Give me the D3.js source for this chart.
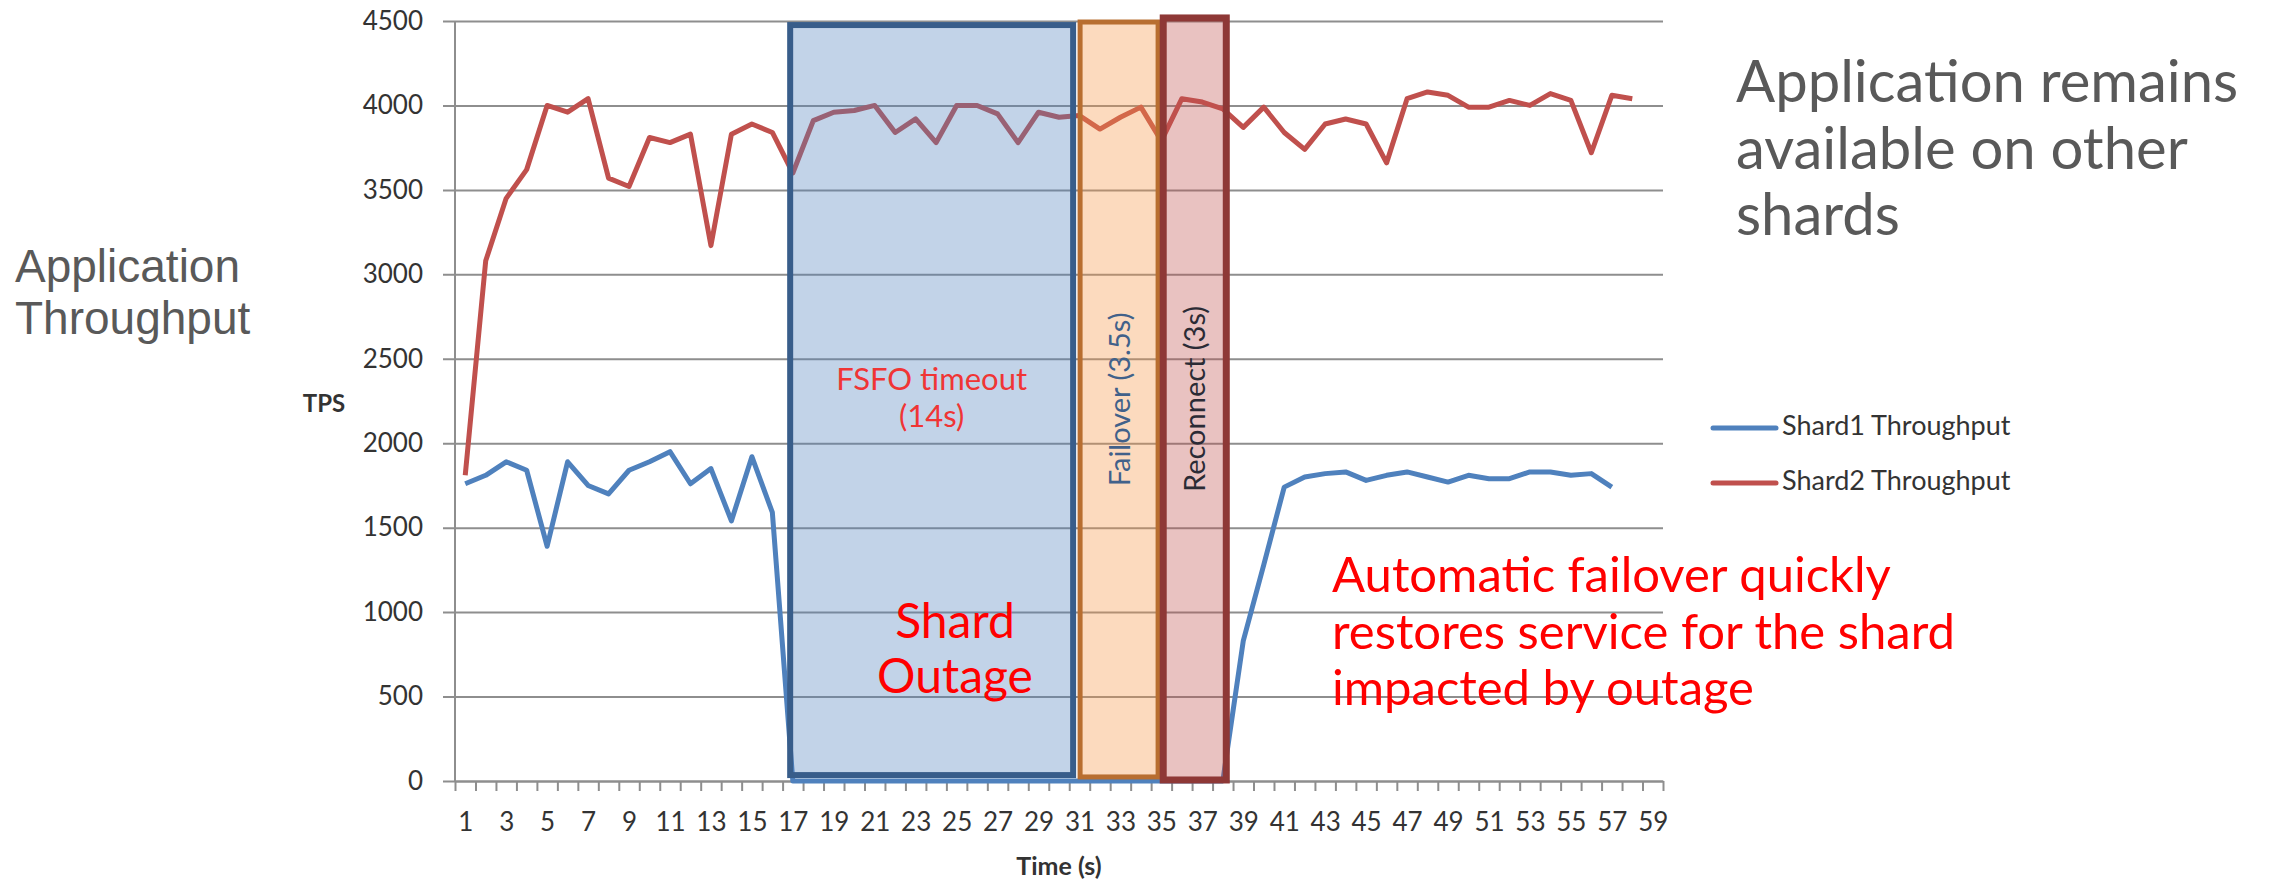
<!DOCTYPE html>
<html>
<head>
<meta charset="utf-8">
<script src="https://cdn.jsdelivr.net/npm/d3@7"></script>
<style>
	body { margin: 0; background: #ffffff; }
	text { font-family: Lato, "Open Sans", sans-serif; }
</style>
</head>
<body>
<svg id="svgChart" width="2271" height="884"></svg>
<script>
// Chart data
const seconds = [1, 2, 3, 4, 5, 6, 7, 8, 9, 10, 11, 12, 13, 14, 15, 16, 17, 18, 19, 20,
	21, 22, 23, 24, 25, 26, 27, 28, 29, 30, 31, 32, 33, 34, 35, 36, 37, 38, 39, 40,
	41, 42, 43, 44, 45, 46, 47, 48, 49, 50, 51, 52, 53, 54, 55, 56, 57, 58, 59];

const shard1 = [1760, 1810, 1890, 1840, 1390, 1890, 1750, 1700, 1840, 1890,
	1950, 1760, 1850, 1540, 1920, 1590, 0, 0, 0, 0,
	0, 0, 0, 0, 0, 0, 0, 0, 0, 0,
	0, 0, 0, 0, 0, 0, 0, 0, 830, 1280,
	1740, 1800, 1820, 1830, 1780, 1810, 1830, 1800, 1770, 1810,
	1790, 1790, 1830, 1830, 1810, 1820, 1740];

const shard2 = [1810, 3080, 3450, 3620, 4000, 3960, 4040, 3570, 3520, 3810,
	3780, 3830, 3170, 3830, 3890, 3840, 3600, 3910, 3960, 3970,
	4000, 3840, 3920, 3780, 4000, 4000, 3950, 3780, 3960, 3930,
	3940, 3860, 3930, 3990, 3790, 4040, 4020, 3980, 3870, 3990,
	3840, 3740, 3890, 3920, 3890, 3660, 4040, 4080, 4060, 3990,
	3990, 4030, 4000, 4070, 4030, 3720, 4060, 4040];

const seriesNames = ["Shard1 Throughput", "Shard2 Throughput"];
const yTicks = [0, 500, 1000, 1500, 2000, 2500, 3000, 3500, 4000, 4500];
const xTickLabels = [1, 3, 5, 7, 9, 11, 13, 15, 17, 19, 21, 23, 25, 27, 29,
	31, 33, 35, 37, 39, 41, 43, 45, 47, 49, 51, 53, 55, 57, 59];

// Outage phases (time in category units, values in TPS)
const phaseNames = ["outage", "failover", "reconnect"];
const phaseStart = [16.87, 31.03, 35.09];
const phaseEnd = [30.69, 34.84, 38.17];
const phaseTop = [4476, 4494, 4518];
const phaseBottom = [35, 24, 6];

// Layout
const plot = {left: 455, right: 1663, top: 21, bottom: 781};
const colors = {shard1: "#4f81bd", shard2: "#c0504d", grid: "#8e8e8e", label: "#333333", note: "#595959"};
const phaseFill = ["#4f81bd", "#f79646", "#c0504d"];
const phaseStroke = ["#385d8a", "#b86e30", "#8e3836"];
const phaseStrokeWidth = [6, 5, 7];

const svg = d3.select("#svgChart");

// Scales
let x = d3.scaleLinear()
		.domain([0.5, seconds.length + 0.5])
		.range([plot.left, plot.right]),
	y = d3.scaleLinear()
		.domain([0, 4500])
		.range([plot.bottom, plot.top]);

// Horizontal gridlines (extend 12px left of the axis as ticks)
svg.append("g")
	.attr("transform", "translate(" + plot.right + ",0)")
	.call(d3.axisLeft(y).tickValues(yTicks).tickSize(plot.right - plot.left + 12).tickFormat(""))
	.call(g => g.select(".domain").remove())
	.call(g => g.selectAll("line").attr("stroke", colors.grid).attr("stroke-width", 2));

// Y tick labels
svg.append("g")
	.attr("transform", "translate(" + (plot.left - 12) + ",0)")
	.call(d3.axisLeft(y).tickValues(yTicks).tickSize(0).tickPadding(20).tickFormat(d3.format("d")))
	.call(g => g.select(".domain").remove())
	.call(g => g.selectAll("text")
		.style("font-size", "26px")
		.attr("fill", colors.label));

// Y axis line
svg.append("line")
	.attr("x1", plot.left).attr("x2", plot.left)
	.attr("y1", y(4500)).attr("y2", y(0))
	.attr("stroke", colors.grid)
	.attr("stroke-width", 2);

// X axis tick marks between categories
let boundaries = seconds.map(s => s - 0.5).concat([seconds.length + 0.5]);
svg.append("g")
	.attr("transform", "translate(0," + plot.bottom + ")")
	.call(d3.axisBottom(x).tickValues(boundaries).tickSize(10).tickSizeOuter(0).tickFormat(""))
	.call(g => g.select(".domain").attr("stroke", colors.grid).attr("stroke-width", 2))
	.call(g => g.selectAll("line").attr("stroke", colors.grid).attr("stroke-width", 2));

// X tick labels
svg.append("g")
	.attr("transform", "translate(0," + plot.bottom + ")")
	.call(d3.axisBottom(x).tickValues(xTickLabels).tickSize(0).tickPadding(32))
	.call(g => g.select(".domain").remove())
	.call(g => g.selectAll("text")
		.style("font-size", "26px")
		.attr("fill", colors.label));

// Axis titles
svg.append("text")
	.attr("x", (plot.left + plot.right) / 2)
	.attr("y", 875)
	.attr("text-anchor", "middle")
	.style("font-size", "25px")
	.style("font-weight", "bold")
	.attr("fill", colors.label)
	.text("Time (s)");

svg.append("text")
	.attr("x", 324)
	.attr("y", 412)
	.attr("text-anchor", "middle")
	.style("font-size", "24px")
	.style("font-weight", "bold")
	.attr("fill", colors.label)
	.text("TPS");

// Series lines
const line = d3.line()
	.x((d, i) => x(seconds[i]))
	.y(d => y(d));

[shard1, shard2].forEach((series, k) => {
	svg.append("path")
		.datum(series)
		.attr("fill", "none")
		.attr("stroke", k == 0 ? colors.shard1 : colors.shard2)
		.attr("stroke-width", 5)
		.attr("stroke-linejoin", "round")
		.attr("d", line);
});

// Phase boxes drawn on top of the lines
phaseNames.forEach((name, i) => {
	svg.append("rect")
		.attr("class", "phase-" + name)
		.attr("x", x(phaseStart[i]))
		.attr("y", y(phaseTop[i]))
		.attr("width", x(phaseEnd[i]) - x(phaseStart[i]))
		.attr("height", y(phaseBottom[i]) - y(phaseTop[i]))
		.attr("fill", phaseFill[i])
		.attr("fill-opacity", 0.35)
		.attr("stroke", phaseStroke[i])
		.attr("stroke-width", phaseStrokeWidth[i]);
});

// Multi-line text block, one <text> with a tspan per line
const addBlock = (lines, xPos, yPos, lineGap, size, col, anchor, family) => {
	let t = svg.append("text")
		.attr("x", xPos)
		.attr("y", yPos)
		.attr("text-anchor", anchor || "start")
		.style("font-size", size + "px")
		.attr("fill", col);
	if (family) t.style("font-family", family);
	lines.forEach((s, i) => {
		t.append("tspan")
			.attr("x", xPos)
			.attr("dy", i == 0 ? 0 : lineGap)
			.text(s);
	});
};

// Phase labels
let cx0 = (x(phaseStart[0]) + x(phaseEnd[0])) / 2;
addBlock(["FSFO timeout", "(14s)"], cx0, 390, 37, 31, "#f03535", "middle");

const rotLabels = [["Failover (3.5s)", 1, "#41618a"], ["Reconnect (3s)", 2, "#2b2b35"]];
rotLabels.forEach(([label, i, col]) => {
	let cx = (x(phaseStart[i]) + x(phaseEnd[i])) / 2;
	let cy = (y(phaseTop[i]) + y(phaseBottom[i])) / 2;
	svg.append("text")
		.attr("transform", "translate(" + cx + "," + cy + ") rotate(-90)")
		.attr("text-anchor", "middle")
		.attr("dy", "0.36em")
		.style("font-size", "29px")
		.attr("fill", col)
		.text(label);
});

addBlock(["Shard", "Outage"], 955, 638, 55, 48, "#ff0000", "middle");

// Legend
const legend = svg.append("g");
seriesNames.forEach((name, i) => {
	let ly = 428 + i * 55;
	legend.append("line")
		.attr("x1", 1713).attr("x2", 1776)
		.attr("y1", ly).attr("y2", ly)
		.attr("stroke", i == 0 ? colors.shard1 : colors.shard2)
		.attr("stroke-width", 5)
		.attr("stroke-linecap", "round");
	legend.append("text")
		.attr("x", 1782)
		.attr("y", ly + 7)
		.style("font-size", "27px")
		.attr("fill", colors.label)
		.text(name);
});

// Slide annotations
addBlock(["Application", "Throughput"], 15, 282, 52, 46, colors.note, "start", "'Liberation Sans', Lato, sans-serif");
addBlock(["Application remains", "available on other", "shards"], 1736, 102, 66.5, 58, colors.note);
addBlock(["Automatic failover quickly", "restores service for the shard", "impacted by outage"],
	1332, 592, 56.5, 49, "#ff0000");
</script>
</body>
</html>
